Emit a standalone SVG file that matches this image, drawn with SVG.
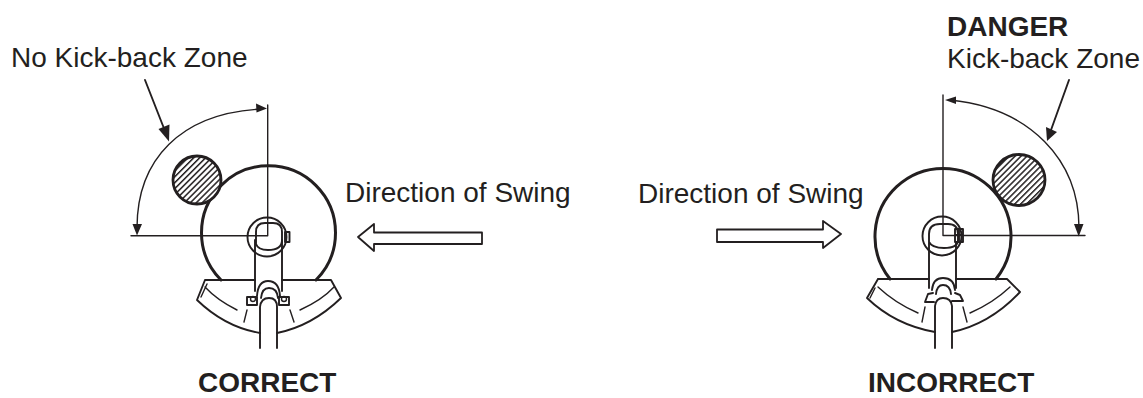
<svg xmlns="http://www.w3.org/2000/svg" width="1143" height="398" viewBox="0 0 1143 398">
<style>
text{font-family:"Liberation Sans",Arial,sans-serif;font-size:28px;fill:#231f20}
.b{font-weight:bold}
.t{fill:none;stroke:#231f20;stroke-width:1.4;stroke-linecap:round;stroke-linejoin:round}
.m{fill:none;stroke:#231f20;stroke-width:1.9;stroke-linecap:round;stroke-linejoin:round}
.k{fill:none;stroke:#231f20;stroke-width:3;stroke-linecap:round}
.h{fill:url(#hatch);stroke:#231f20;stroke-width:2.800}
.f{fill:#231f20;stroke:none}
.w{fill:#fff;stroke:#231f20;stroke-width:1.8;stroke-linejoin:round}
</style>
<defs>
<pattern id="hatch" patternUnits="userSpaceOnUse" width="4.2" height="4.2" patternTransform="rotate(-45)">
<rect width="4.2" height="4.2" fill="#fff"/><rect width="4.2" height="1.500" fill="#231f20"/>
</pattern>
</defs>
<rect width="1143" height="398" fill="#fff"/>
<g id="correct-machine">
<path class="k" d="M221,280 A67,67 0 1 1 316,280"/>
<circle class="h" cx="197" cy="180" r="24"/>
<circle class="m" cx="267" cy="237" r="19.500"/>
<path class="m" d="M256,244 V232 Q256,223 265,223 H273 Q282,223 282,232 V240 Q282,250 268,250 Q258,250 256,244Z"/>
<rect class="m" x="285" y="232" width="4.500" height="10"/>
<path class="m" d="M255,240 V291 M282,240 V291"/>
<path class="m" d="M205,280 H255 M282,280 H331 L341,298 Q312,326 277,333 M205,280 L197,300 Q225,327 260,333"/>
<path class="t" d="M205,287 Q217,300 237,310 M300,310 Q322,300 334,287 M201,297 L207,284 M247,310 L244,322 M290,310 L294,322"/>
<path class="m" d="M247,297 H257 V305 H247Z M279,297 H289 V305 H279Z M257,296 Q258,281 268,281 Q279,281 280,296 M261,298 Q262,288 269,288 Q277,288 278,298 M260,348 V307 Q261,298 269,298 Q277,298 277,307 V348"/>
<circle class="t" cx="253" cy="299" r="2.500"/><circle class="t" cx="284" cy="299" r="2.500"/>
</g>
<g id="incorrect-machine">
<path class="k" d="M890,279 A68,68 0 1 1 996,279"/>
<ellipse class="h" cx="1019" cy="180" rx="26" ry="25.500"/>
<circle class="m" cx="942" cy="236" r="19.500"/>
<path class="m" d="M929,242 V234 Q929,224 940,224 H948 Q958,224 958,234 V240 Q958,248 944,248 Q932,248 929,242Z"/>
<path class="m" d="M955,229 H963 V242 H955Z M959,229 V242 M955,235 H963"/>
<path class="m" d="M929,243 V288 M956,243 V288"/>
<path class="m" d="M878,279 H929 M956,279 H1007 L1020,292 Q990,324 952,332 M878,279 L867,298 Q895,325 935,332"/>
<path class="t" d="M878,287 Q895,303 918,313 M970,313 Q993,303 1010,287 M870,298 L875,288 M925,307 L922,322 M963,307 L967,322"/>
<path class="m" d="M925,302 L928,294 L933,293 M925,302 H934 M963,301 H952 M963,301 L960,295 L955,293 M932,290 Q933,278 943,278 Q954,278 955,290 M936,294 Q937,285 943,285 Q950,285 951,294 M935,348 V306 Q936,298 943,298 Q951,298 952,306 V348"/>
</g>
<g id="connectors">
<path class="t" d="M267.700,105 V235.700 H131"/>
<path class="t" d="M262,109 C180,113 137,160 137,228"/>
<path class="f" d="M267,108.500 L256,103.500 L256.500,112.500Z M137,235.500 L132.500,224 L142,224Z"/>
<path class="m" d="M145,80 L165,131"/>
<path class="f" d="M169,141.500 L158.500,129 L169.500,124.500Z"/>
<path class="t" d="M943,95 V235.500 H1085"/>
<path class="t" d="M950,100 C1030,108 1079,160 1079,228"/>
<path class="f" d="M945,100 L956,96.500 L956,104Z M1078.700,236.500 L1074,224 L1083.500,224Z"/>
<path class="m" d="M1069,80 L1051,130"/>
<path class="f" d="M1047,141 L1046,127 L1057,132Z"/>
</g>
<g id="swing-arrow-left"><path class="w" d="M482,232.500 H374 V224 L358,237 L374,251 V244 H482Z"/></g>
<g id="swing-arrow-right"><path class="w" d="M717,229.500 H823 V221 L841,234 L823,248 V242 H717Z"/></g>
<g id="labels">
<text x="11" y="67">No Kick-back Zone</text>
<text x="345" y="202">Direction of Swing</text>
<text x="638" y="203">Direction of Swing</text>
<text class="b" x="947" y="36">DANGER</text>
<text x="947" y="67.500">Kick-back Zone</text>
<text class="b" x="198" y="391.500">CORRECT</text>
<text class="b" x="868" y="391.500">INCORRECT</text>
</g>
</svg>
